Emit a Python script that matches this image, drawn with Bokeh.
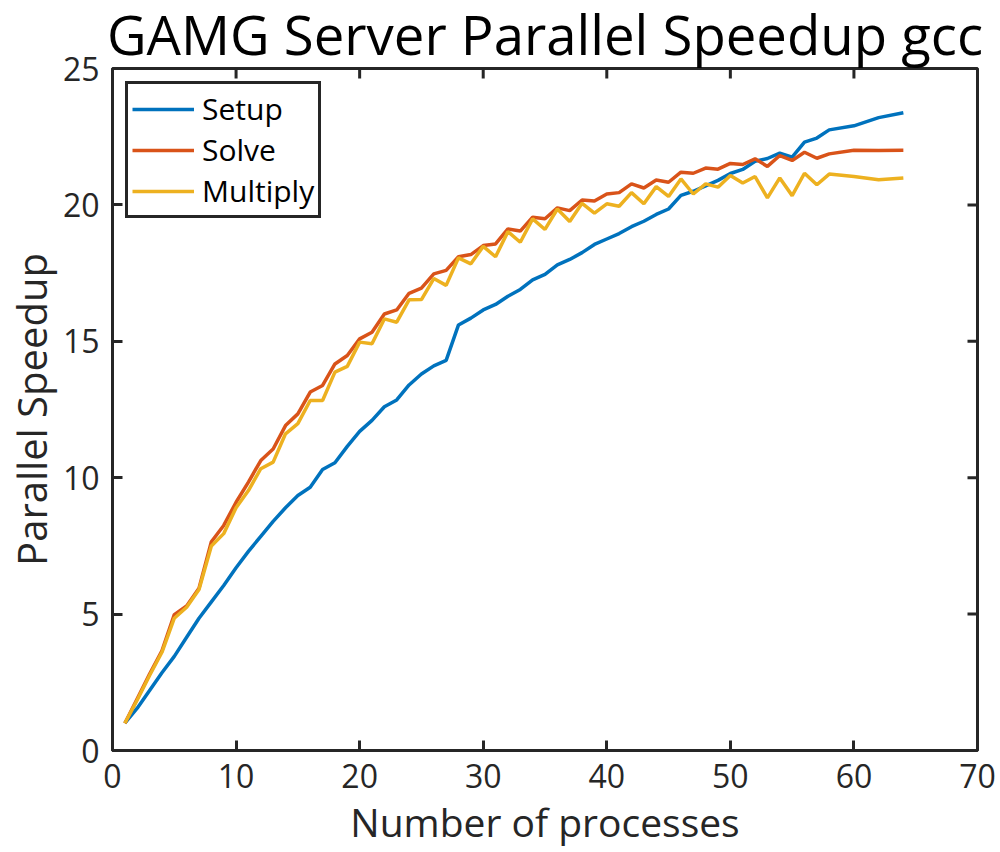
import math
from bokeh.plotting import figure
from bokeh.models import FixedTicker, Legend, LegendItem
from bokeh.embed import file_html
from bokeh.resources import INLINE

# ---- data ----
processes = list(range(1, 59)) + [60, 62, 64]

setup = [1.0, 1.55, 2.2, 2.85, 3.45, 4.15, 4.85, 5.45, 6.05, 6.7,
         7.3, 7.85, 8.4, 8.9, 9.35, 9.65, 10.3, 10.55, 11.15, 11.7,
         12.1, 12.6, 12.85, 13.4, 13.8, 14.1, 14.3, 15.6, 15.85, 16.15,
         16.35, 16.65, 16.9, 17.25, 17.45, 17.8, 18.0, 18.25, 18.55, 18.75,
         18.95, 19.2, 19.4, 19.65, 19.85, 20.35, 20.5, 20.7, 20.9, 21.15,
         21.3, 21.6, 21.7, 21.9, 21.75, 22.3, 22.45, 22.75,
         22.9, 23.2, 23.38]

solve = [1.0, 1.9, 2.8, 3.65, 4.98, 5.3, 5.95, 7.65, 8.25, 9.1,
         9.84, 10.63, 11.05, 11.91, 12.34, 13.14, 13.38, 14.17, 14.48, 15.09,
         15.33, 16.0, 16.15, 16.76, 16.95, 17.47, 17.6, 18.1, 18.18, 18.51,
         18.57, 19.12, 19.04, 19.55, 19.49, 19.89, 19.79, 20.18, 20.14, 20.4,
         20.45, 20.77, 20.62, 20.91, 20.83, 21.2, 21.16, 21.35, 21.31, 21.52,
         21.48, 21.69, 21.41, 21.81, 21.63, 21.93, 21.71, 21.87,
         22.0, 21.99, 22.0]

multiply = [1.0, 1.85, 2.75, 3.6, 4.85, 5.25, 5.9, 7.5, 7.95, 8.9,
            9.53, 10.33, 10.57, 11.61, 11.98, 12.83, 12.83, 13.87, 14.08, 14.97,
            14.91, 15.82, 15.7, 16.52, 16.53, 17.3, 17.05, 18.06, 17.84, 18.48,
            18.1, 19.02, 18.63, 19.49, 19.1, 19.85, 19.39, 20.06, 19.7, 20.04,
            19.95, 20.45, 20.04, 20.67, 20.31, 20.95, 20.4, 20.77, 20.65, 21.08,
            20.8, 21.04, 20.26, 20.99, 20.34, 21.16, 20.74, 21.13,
            21.04, 20.92, 20.99]

series_names = ["Setup", "Solve", "Multiply"]
series_colors = ["#0072BD", "#D95319", "#EDB120"]
x_ticks = [0, 10, 20, 30, 40, 50, 60, 70]
y_ticks = [0, 5, 10, 15, 20, 25]

title_text = "GAMG Server Parallel Speedup gcc"
x_label = "Number of processes"
y_label = "Parallel Speedup"

FONT = "Open Sans"
TXT = "#262626"

p = figure(width=1000, height=852, x_range=(0, 70), y_range=(0, 25),
           output_backend="svg", toolbar_location=None,
           min_border_left=110, min_border_right=23,
           min_border_top=68, min_border_bottom=102)

p.title.text = title_text
p.title.text_font = FONT
p.title.text_font_size = "54.5px"
p.title.text_font_style = "normal"
p.title.text_color = "#000000"
p.title.align = "center"
p.title.vertical_align = "top"
p.title.standoff = -9

p.xgrid.visible = False
p.ygrid.visible = False
p.background_fill_color = "white"
p.border_fill_color = "white"
p.outline_line_color = TXT
p.outline_line_width = 3
p.outline_line_alpha = 1

for ax, ticks in ((p.xaxis[0], x_ticks), (p.yaxis[0], y_ticks)):
    ax.ticker = FixedTicker(ticks=ticks)
    ax.axis_line_color = TXT
    ax.axis_line_width = 3
    ax.major_tick_line_color = TXT
    ax.major_tick_line_width = 3
    ax.major_tick_in = 10
    ax.major_tick_out = 0
    ax.minor_tick_line_color = None
    ax.major_label_text_font = FONT
    ax.major_label_text_color = TXT
    ax.major_label_text_font_size = "32px"
    ax.axis_label_text_font = FONT
    ax.axis_label_text_color = TXT
    ax.axis_label_text_font_style = "normal"

p.xaxis[0].axis_label = x_label
p.yaxis[0].axis_label = y_label
p.xaxis[0].axis_label_text_font_size = "39px"
p.yaxis[0].axis_label_text_font_size = "40px"
p.xaxis[0].major_label_standoff = 13
p.yaxis[0].major_label_standoff = 13
p.xaxis[0].axis_label_standoff = 4
p.yaxis[0].axis_label_standoff = 1

# mirrored ticks on top and right edges
p.ray(x=x_ticks, y=[y_ticks[-1]] * len(x_ticks), length=10, length_units="screen",
      angle=-math.pi / 2, line_color=TXT, line_width=3)
p.ray(x=[x_ticks[-1]] * len(y_ticks), y=y_ticks, length=10, length_units="screen",
      angle=math.pi, line_color=TXT, line_width=3)

items = []
for name, ys, col in zip(series_names, [setup, solve, multiply], series_colors):
    r = p.line(processes, ys, line_color=col, line_width=3.5)
    items.append(LegendItem(label=name, renderers=[r]))

legend = Legend(items=items, location="top_left")
legend.margin = 13
legend.padding = 4
legend.spacing = 0
legend.label_height = 36
legend.glyph_height = 36
legend.glyph_width = 62
legend.label_standoff = 8
legend.label_text_font = FONT
legend.label_text_font_size = "30px"
legend.label_text_color = "#000000"
legend.border_line_color = TXT
legend.border_line_width = 3
legend.border_line_alpha = 1
legend.background_fill_color = "white"
legend.background_fill_alpha = 1
p.add_layout(legend, "center")

open("out.html", "w").write(file_html(p, INLINE))
